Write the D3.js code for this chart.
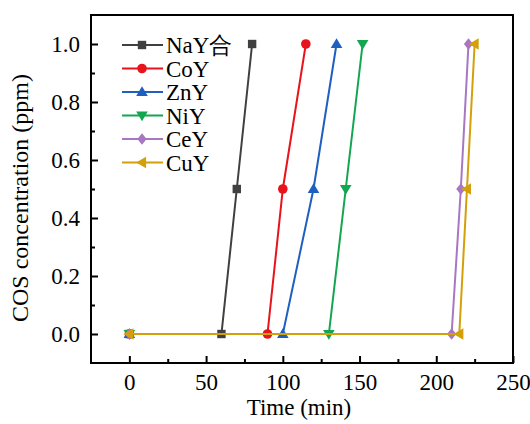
<!DOCTYPE html>
<html>
<head>
<meta charset="utf-8">
<script src="https://cdn.jsdelivr.net/npm/d3@7"></script>
<style>
  body { margin: 0; background: #fff; }
</style>
</head>
<body>
<div class="chart"></div>
<script>
// data: time (min) vs COS concentration (ppm)
var names = ['NaY合', 'CoY', 'ZnY', 'NiY', 'CeY', 'CuY'];
var colors = ['#404040', '#e8141b', '#1f5fbf', '#12a651', '#a777c4', '#d4a00a'];
var symbols = ['square', 'circle', 'triUp', 'triDown', 'diamond', 'triLeft'];
var conc = [0, 0, 0.5, 1.0];
var naTimes = [0, 60, 70, 80];
var coTimes = [0, 90, 100, 115];
var znTimes = [0, 100, 120, 135];
var niTimes = [0, 130, 141, 152];
var ceTimes = [0, 210, 216, 221];
var cuTimes = [0, 215, 220, 225];
var allTimes = [naTimes, coTimes, znTimes, niTimes, ceTimes, cuTimes];
var xTicks = [0, 50, 100, 150, 200, 250];
var yTicks = [0, 0.2, 0.4, 0.6, 0.8, 1.0];

var FONT = "'Liberation Serif'";

var cfg = {
    w: 530,
    h: 424,
    left: 91,
    right: 513,
    top: 15,
    bottom: 363
};

var xScale = d3.scaleLinear().domain([-25, 250]).range([cfg.left, cfg.right]);
var yScale = d3.scaleLinear().domain([-0.1, 1.1]).range([cfg.bottom, cfg.top]);

var svg = d3.select('.chart').append('svg')
    .attr('width', cfg.w)
    .attr('height', cfg.h)
    .style('font-family', FONT);

var series = names.map(function (name, i) {
    return {
        name: name,
        color: colors[i],
        symbol: symbols[i],
        points: allTimes[i].map(function (t, j) { return { t: t, c: conc[j] }; })
    };
});

var line = d3.line()
    .x(function (d) { return xScale(d.t); })
    .y(function (d) { return yScale(d.c); });

var drawMarker = function (g, type, color) {
    var s = 4.2;
    if (type === 'square') {
        g.append('rect').attr('x', -s).attr('y', -s).attr('width', 2 * s).attr('height', 2 * s).attr('fill', color);
    } else if (type === 'circle') {
        g.append('circle').attr('r', s + 0.6).attr('fill', color);
    } else {
        var pts;
        var r = s + 1.6;
        if (type === 'triUp') pts = [[0, -r], [r, r * 0.7], [-r, r * 0.7]];
        if (type === 'triDown') pts = [[0, r], [r, -r * 0.7], [-r, -r * 0.7]];
        if (type === 'triLeft') pts = [[-r, 0], [r * 0.7, -r], [r * 0.7, r]];
        if (type === 'diamond') pts = [[0, -r], [r * 0.8, 0], [0, r], [-r * 0.8, 0]];
        g.append('polygon').attr('points', pts.map(function (p) { return p.join(','); }).join(' ')).attr('fill', color);
    }
};

// series
series.forEach(function (s) {
    svg.append('path')
        .datum(s.points)
        .attr('fill', 'none')
        .attr('stroke', s.color)
        .attr('stroke-width', 2)
        .attr('d', line);

    s.points.forEach(function (p) {
        var g = svg.append('g').attr('transform', 'translate(' + xScale(p.t) + ',' + yScale(p.c) + ')');
        drawMarker(g, s.symbol, s.color);
    });
});

// axes, ticks pointing inward
var xAxis = d3.axisBottom(xScale).tickValues(xTicks).tickSize(-7).tickPadding(11).tickFormat(d3.format('d'));
var xMinor = d3.axisBottom(xScale).tickValues([25, 75, 125, 175, 225]).tickSize(-4).tickFormat('');
var yAxis = d3.axisLeft(yScale).tickValues(yTicks).tickSize(-7).tickPadding(11).tickFormat(d3.format('.1f'));
var yMinor = d3.axisLeft(yScale).tickValues([0.1, 0.3, 0.5, 0.7, 0.9]).tickSize(-4).tickFormat('');

var styleAxis = function (g) {
    g.attr('font-family', FONT).attr('font-size', 23);
    g.select('.domain').remove();
    g.selectAll('line').attr('stroke', '#000').attr('stroke-width', 2);
    g.selectAll('text').style('font-family', FONT).attr('fill', '#000');
};

svg.append('g').attr('transform', 'translate(0,' + cfg.bottom + ')').call(xAxis).call(styleAxis);
svg.append('g').attr('transform', 'translate(0,' + cfg.bottom + ')').call(xMinor).call(styleAxis);
svg.append('g').attr('transform', 'translate(' + cfg.left + ',0)').call(yAxis).call(styleAxis);
svg.append('g').attr('transform', 'translate(' + cfg.left + ',0)').call(yMinor).call(styleAxis);

svg.append('rect')
    .attr('x', cfg.left)
    .attr('y', cfg.top)
    .attr('width', cfg.right - cfg.left)
    .attr('height', cfg.bottom - cfg.top)
    .attr('fill', 'none')
    .attr('stroke', '#000')
    .attr('stroke-width', 2);

// axis titles
svg.append('text')
    .attr('x', 299)
    .attr('y', 415)
    .attr('text-anchor', 'middle')
    .style('font-family', FONT)
    .style('font-size', '23px')
    .text('Time (min)');

svg.append('text')
    .attr('transform', 'translate(28,198) rotate(-90)')
    .attr('text-anchor', 'middle')
    .style('font-family', FONT)
    .style('font-size', '24px')
    .text('COS concentration (ppm)');

// legend
var legend = svg.append('g').attr('transform', 'translate(122,45)');
series.forEach(function (s, i) {
    var row = legend.append('g').attr('transform', 'translate(0,' + (i * 23.5) + ')');
    row.append('line').attr('x1', 0).attr('x2', 41).attr('y1', 0).attr('y2', 0)
        .attr('stroke', s.color).attr('stroke-width', 2);
    var m = row.append('g').attr('transform', 'translate(20,0)');
    drawMarker(m, s.symbol, s.color);
    row.append('text')
        .attr('x', 44)
        .attr('y', 8)
        .style('font-family', FONT)
        .style('font-size', '23px')
        .text(s.name);
});
</script>
</body>
</html>
